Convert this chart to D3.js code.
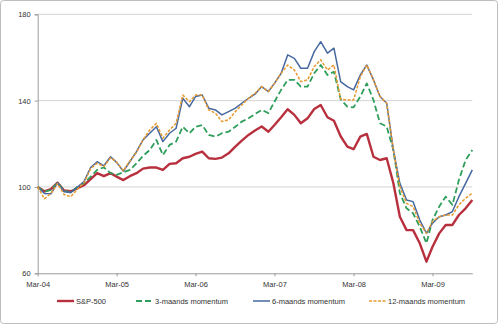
<!DOCTYPE html>
<html><head><meta charset="utf-8">
<script src="https://cdn.jsdelivr.net/npm/d3@7"></script>
<style>body{margin:0;background:#fff}svg{display:block}</style>
</head><body>
<svg id="c" width="500" height="325"></svg>
<script>
const startDate = new Date(2004, 2, 1);
const months = d3.range(67).map(i => new Date(2004, 2 + i, 1));
const sp500 = [100,98,99,102,98.4,98,99.4,100.8,103.6,106.4,105,106.4,104.8,103.2,105,106.4,108.5,109,109,107.9,110.7,111,113.3,114,115.3,116.4,113.3,113,113.6,115.6,118.7,121.5,124.1,126.2,128,125.6,128.7,132.3,136,133.4,129.5,131.8,136.1,138,132.3,130.7,123.5,118.7,117.5,123.3,124.6,114,112.5,113.3,101.7,86.2,80,80,73.9,65.4,72.3,78.5,82.4,82.4,87,90.1,94];
const mom3 = [100,97.8,98.6,102,98.3,97.4,100.1,101.7,104.8,107.9,109.1,106.4,105.6,106.8,107.9,111,114.4,117.1,121.8,114.8,119.5,121,127.9,124.9,127.9,128.7,124.1,123.3,124.9,125.6,127.9,130.3,131.8,133.8,135.7,134.2,139.5,145,149.6,149.6,146.5,146.5,152.7,156.5,151.9,153.4,140.7,137.2,136.9,141.9,148,140.3,129.5,128,117.1,97.1,90.1,87.8,81.6,73.9,84.7,90.9,95.5,91.7,103.2,112.5,117.1];
const mom6 = [100,97,96.8,102,97.8,97.4,100,102.5,109,111.7,109.8,114,111.4,107.3,111.7,116.4,121.8,124.9,127.9,121,124.9,127.2,141.1,137.2,141.9,142.6,136.5,135.7,133.4,134.9,136.5,138.8,141.1,143,146.5,144.2,148,152.7,161.2,159.6,155,155,162.7,167.3,162,164.3,148.8,146.5,145,151.9,156.5,149.6,141.9,138.8,117.1,101.7,94,93.2,84.7,78.5,83.2,86.2,87,88.6,95.5,101.7,107.9];
const mom12 = [100,94.5,97,101.5,96.5,95.5,99,102,108.5,111,109.5,113.5,111.5,107.5,112,116,121.8,126.4,129.5,122.6,126.4,129.5,142.6,139.5,142.6,142.6,135.7,134.2,130.3,131.1,134.9,138,141.1,143.4,146.5,144.2,148,152.7,156.5,154.2,148.8,149.6,155.8,158.9,154.2,156.5,140.7,140.3,140.3,151.1,156.5,149.6,141.9,138.8,117.1,100.1,92.4,90.9,83.2,78.5,84,86.2,87,87,91.7,94.8,97.1];
const seriesNames = ["S&P-500","3-maands momentum","6-maands momentum","12-maands momentum"];
const yTicks = [60,100,140,180];
const xTickDates = [0,12,24,36,48,60].map(i => new Date(2004, 2 + i, 1));

const svg = d3.select("#c");
const fontFam = "'Liberation Sans', Arial, sans-serif";
svg.append("rect").attr("x",0.5).attr("y",0.5).attr("width",497).attr("height",323)
  .attr("rx",3).attr("fill","#fff").attr("stroke","#bdbdbd").attr("stroke-width",1);

const x = d3.scaleTime().domain([months[0], months[66]]).range([37.7, 472.3]);
const y = d3.scaleLinear().domain([60,180]).range([273.3, 14.3]);

// gridlines
svg.append("g").selectAll("line").data(yTicks.filter(t => t > 60)).join("line")
  .attr("x1", 37.7).attr("x2", 472.3).attr("y1", d => y(d)).attr("y2", d => y(d))
  .attr("stroke", "#d4d4d4").attr("stroke-width", 1);

// y axis
const yAxis = svg.append("g").attr("transform","translate(37.7,0)")
  .call(d3.axisLeft(y).tickValues(yTicks).tickSize(3).tickPadding(4));
yAxis.select(".domain").attr("stroke","#9a9a9a");
yAxis.selectAll(".tick line").attr("stroke","#9a9a9a");
yAxis.selectAll("text").attr("font-family",fontFam).attr("font-size","7.5px").attr("fill","#333");

// x axis
const xAxis = svg.append("g").attr("transform","translate(0,273.3)")
  .call(d3.axisBottom(x).tickValues(xTickDates).tickFormat(d3.timeFormat("%b-%y")).tickSize(3).tickPadding(5).tickSizeOuter(0));
xAxis.select(".domain").attr("stroke","#9a9a9a");
xAxis.selectAll(".tick line").attr("stroke","#9a9a9a");
xAxis.selectAll("text").attr("font-family",fontFam).attr("font-size","7.5px").attr("fill","#333");

const styles = [
  {data: sp500, color:"#b8303e", w:2.4, dash:null},
  {data: mom3, color:"#2f9e5b", w:1.8, dash:"6,3"},
  {data: mom6, color:"#45689f", w:1.5, dash:null},
  {data: mom12, color:"#e8992f", w:1.5, dash:"3,1.5"}
];
const line = d3.line().x((d,i) => x(months[i])).y(d => y(d));
// draw order: red, green, blue, orange
styles.forEach(s => {
  svg.append("path").datum(s.data).attr("d", line).attr("fill","none")
    .attr("stroke", s.color).attr("stroke-width", s.w)
    .attr("stroke-dasharray", s.dash).attr("stroke-linejoin","round");
});

// legend
const legX = [57, 136, 253, 369];
const leg = svg.append("g");
styles.forEach((s,i) => {
  leg.append("line").attr("x1", legX[i]).attr("x2", legX[i]+17).attr("y1", 301).attr("y2", 301)
    .attr("stroke", s.color).attr("stroke-width", s.w).attr("stroke-dasharray", s.dash);
  leg.append("text").attr("x", legX[i]+19).attr("y", 301).attr("dy","0.35em")
    .attr("font-family", fontFam).attr("font-size","7.5px").attr("fill","#333").text(seriesNames[i]);
});
</script>
</body></html>
